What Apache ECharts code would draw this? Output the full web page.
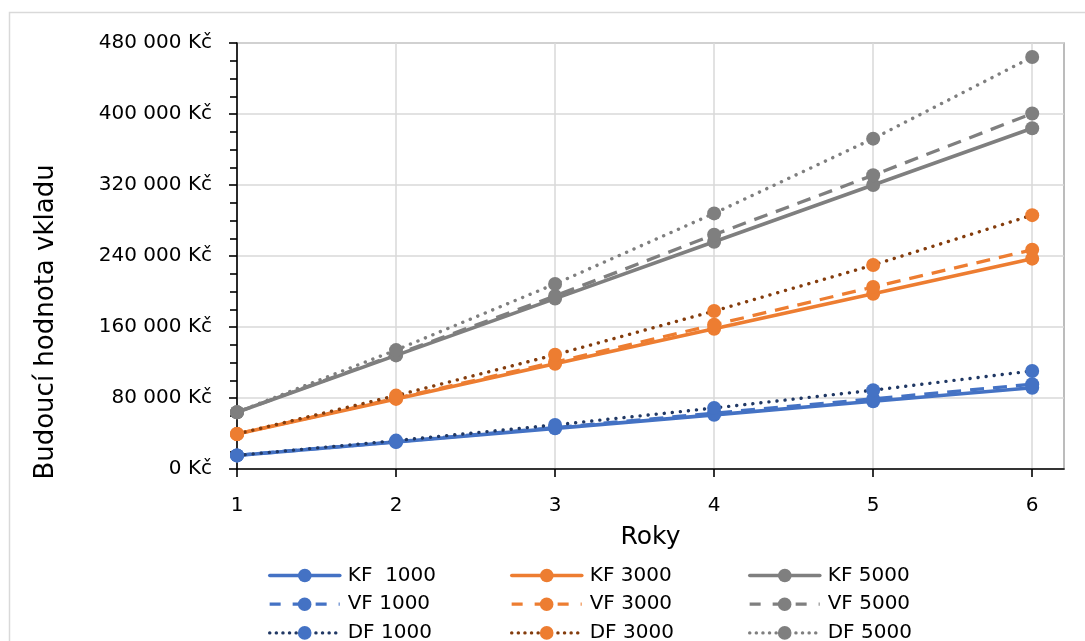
<!DOCTYPE html>
<html>
<head>
<meta charset="utf-8">
<script src="https://cdn.jsdelivr.net/npm/echarts@6/dist/echarts.min.js"></script>
<style>
  html, body { margin: 0; padding: 0; background: #ffffff; }
  #chart { width: 1085px; height: 641px; }
</style>
</head>
<body>
<div id="chart"></div>
<script>
// Years on the horizontal axis
var years = [1, 2, 3, 4, 5, 6];

// Future value of the deposit (Kč) for each fund and monthly amount
var kf1000 = [15300, 30500, 45800, 61000, 76300, 91600];
var vf1000 = [15300, 30800, 46600, 62900, 79000, 95500];
var df1000 = [15300, 32000, 49700, 68700, 88800, 110500];
var kf3000 = [39500, 79000, 118500, 158000, 197500, 237000];
var vf3000 = [39500, 79700, 120500, 162500, 205000, 247000];
var df3000 = [39500, 82700, 128700, 178000, 229800, 286000];
var kf5000 = [64000, 128000, 192000, 256000, 320000, 384000];
var vf5000 = [64000, 129000, 195000, 264000, 331000, 400500];
var df5000 = [64000, 134000, 208500, 288000, 372200, 464200];

// Series names as shown in the legend
var names = ['KF  1000', 'KF 3000', 'KF 5000',
             'VF 1000', 'VF 3000', 'VF 5000',
             'DF 1000', 'DF 3000', 'DF 5000'];

var yTitle = 'Budoucí hodnota vkladu';
var xTitle = 'Roky';

var FONT = 'DejaVu Sans';
var BLUE = '#4472c4', ORANGE = '#ed7d31', GRAY = '#7f7f7f';
var NAVY = '#203864', BROWN = '#843c0c';

function pairs(vals) {
  return years.map(function (y, i) { return [y, vals[i]]; });
}

function lineStyleFor(kind, color, dotColor) {
  if (kind === 'solid') {
    return { color: color, width: 3.6, type: 'solid', cap: 'round', join: 'round' };
  }
  if (kind === 'dash') {
    return { color: color, width: 3.3, type: [14, 9], cap: 'butt', join: 'round' };
  }
  return { color: dotColor || color, width: 3.4, type: [0.1, 8], cap: 'round', join: 'round' };
}

var seriesDefs = [
  { name: names[0], vals: kf1000, color: BLUE,   kind: 'solid' },
  { name: names[1], vals: kf3000, color: ORANGE, kind: 'solid' },
  { name: names[2], vals: kf5000, color: GRAY,   kind: 'solid' },
  { name: names[3], vals: vf1000, color: BLUE,   kind: 'dash' },
  { name: names[4], vals: vf3000, color: ORANGE, kind: 'dash' },
  { name: names[5], vals: vf5000, color: GRAY,   kind: 'dash' },
  { name: names[6], vals: df1000, color: BLUE,   kind: 'dot', dot: NAVY },
  { name: names[7], vals: df3000, color: ORANGE, kind: 'dot', dot: BROWN },
  { name: names[8], vals: df5000, color: GRAY,   kind: 'dot', dot: GRAY }
];

var series = seriesDefs.map(function (d) {
  return {
    name: d.name,
    type: 'line',
    data: pairs(d.vals),
    symbol: 'circle',
    symbolSize: 14,
    showAllSymbol: true,
    itemStyle: { color: d.color, borderWidth: 0 },
    lineStyle: lineStyleFor(d.kind, d.color, d.dot),
    emphasis: { disabled: true }
  };
});

// Legend laid out as a 3 x 3 table: columns by amount, rows by fund
var legendCols = [268, 510, 748];
var legendRows = [574, 602.7, 631.4];
var legends = seriesDefs.map(function (d, i) {
  var col = i % 3, row = Math.floor(i / 3);
  var ls = lineStyleFor(d.kind, d.color, d.dot);
  if (d.kind === 'dash') { ls.type = [11, 12]; ls.width = 3.3; }
  if (d.kind === 'dot') { ls.type = [0.1, 6.5]; }
  return {
    left: legendCols[col],
    top: legendRows[row] - 8.5,
    itemWidth: 70,
    itemHeight: 17,
    padding: 0,
    selectedMode: false,
    itemStyle: { color: d.color, borderWidth: 0 },
    lineStyle: ls,
    textStyle: { fontFamily: FONT, fontSize: 20, color: '#000000', padding: [0, 0, 0, 3] },
    data: [d.name]
  };
});

function fmtKc(v) {
  return String(Math.round(v)).replace(/\B(?=(\d{3})+(?!\d))/g, '\u00a0') + ' Kč';
}

var chart = echarts.init(document.getElementById('chart'), null, { renderer: 'canvas' });

chart.setOption({
  animation: false,
  backgroundColor: '#ffffff',
  textStyle: { fontFamily: FONT },
  graphic: [{
    type: 'rect',
    shape: { x: 9.5, y: 12.5, width: 1200, height: 800 },
    style: { fill: 'none', stroke: '#d9d9d9', lineWidth: 1.5 },
    silent: true,
    z: -10
  }, {
    type: 'text',
    x: 46,
    y: 322,
    rotation: Math.PI / 2,
    silent: true,
    style: {
      text: yTitle,
      fontFamily: FONT,
      fontSize: 26,
      fill: '#000000',
      align: 'center',
      verticalAlign: 'middle'
    }
  }],
  grid: {
    left: 237, right: 21, top: 43, bottom: 172,
    show: true,
    borderColor: '#a6a6a6',
    borderWidth: 1.5,
    backgroundColor: 'transparent'
  },
  legend: legends,
  xAxis: {
    type: 'value',
    min: 1, max: 6.2, interval: 1,
    name: xTitle,
    nameLocation: 'middle',
    nameGap: 56,
    nameTextStyle: { fontFamily: FONT, fontSize: 25, color: '#000000' },
    axisLine: { show: true, onZero: false, lineStyle: { color: '#000000', width: 1.6 } },
    axisTick: { show: true, inside: false, length: 8, customValues: years, lineStyle: { color: '#000000', width: 1.6 } },
    axisLabel: {
      customValues: years,
      margin: 27,
      fontFamily: FONT, fontSize: 20, color: '#000000',
      formatter: function (v) { return Number.isInteger(v) ? String(v) : ''; }
    },
    splitLine: { show: true, lineStyle: { color: '#d9d9d9', width: 1.5 } }
  },
  yAxis: {
    type: 'value',
    min: 0, max: 480000, interval: 80000,
    axisLine: { show: true, lineStyle: { color: '#000000', width: 1.6 } },
    axisTick: { show: true, inside: false, length: 8, lineStyle: { color: '#000000', width: 1.6 } },
    minorTick: { show: true, splitNumber: 4, length: 7, lineStyle: { color: '#000000', width: 1.6 } },
    axisLabel: {
      margin: 25,
      fontFamily: FONT, fontSize: 20, color: '#000000',
      formatter: fmtKc
    },
    splitLine: { show: true, lineStyle: { color: '#d9d9d9', width: 1.5 } }
  },
  series: series
});
</script>
</body>
</html>
